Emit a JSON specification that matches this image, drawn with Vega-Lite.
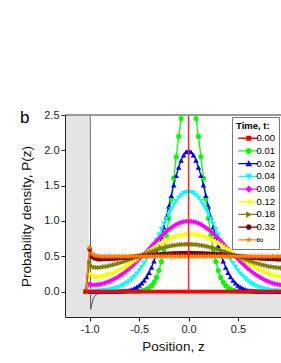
{
"$schema":"https://vega.github.io/schema/vega-lite/v6.json",
"width":216,"height":202,
"autosize":{"type":"none"},
"padding":{"left":65,"top":115,"right":0,"bottom":46},
"background":"white",
"config":{"view":{"stroke":null},"font":"Liberation Sans","locale":{"number":{"decimal":".","thousands":",","grouping":[3],"currency":["$",""],"minus":"-"}}},
"title":{"text":"b","anchor":"start","frame":"group","fontSize":17,"fontWeight":"normal","color":"#000","dx":-45,"offset":-31,"baseline":"alphabetic"},
"datasets":{
"series":[{"s":"a","t":"0.00"},{"s":"b","t":"0.01"},{"s":"c","t":"0.02"},{"s":"d","t":"0.04"},{"s":"e","t":"0.08"},{"s":"f","t":"0.12"},{"s":"g","t":"0.18"},{"s":"h","t":"0.32"},{"s":"i","t":"∞"}],
"wallzone":[{"x1":-1.3,"x2":-1.01,"y1":-0.5,"y2":3}],
"wall":[{"z":-1.01,"p":10},{"z":-0.99,"p":-0.25},{"z":-0.98,"p":-0.19},{"z":-0.97,"p":-0.13},{"z":-0.96,"p":-0.09},{"z":-0.95,"p":-0.065},{"z":-0.93,"p":-0.04},{"z":-0.9,"p":-0.02},{"z":-0.85,"p":-0.008},{"z":-0.8,"p":-0.002},{"z":-0.7,"p":0},{"z":0.98,"p":0}],
"curves":[
{"z":-1.04,"a":0,"b":0,"c":0,"d":0,"e":0,"f":0,"g":0,"h":0,"i":0},
{"z":-1,"a":0,"b":0,"c":0,"d":0.006,"e":0.11,"f":0.253,"g":0.415,"h":0.6,"i":0.625},
{"z":-0.975,"a":0,"b":0,"c":0,"d":0.006,"e":0.094,"f":0.217,"g":0.356,"h":0.489,"i":0.535},
{"z":-0.95,"a":0,"b":0,"c":0,"d":0.006,"e":0.094,"f":0.212,"g":0.344,"h":0.472,"i":0.515},
{"z":-0.925,"a":0,"b":0,"c":0,"d":0.008,"e":0.097,"f":0.212,"g":0.34,"h":0.463,"i":0.505},
{"z":-0.9,"a":0,"b":0,"c":0,"d":0.01,"e":0.102,"f":0.216,"g":0.34,"h":0.459,"i":0.5},
{"z":-0.875,"a":0,"b":0,"c":0,"d":0.012,"e":0.11,"f":0.223,"g":0.345,"h":0.461,"i":0.5},
{"z":-0.85,"a":0,"b":0,"c":0,"d":0.015,"e":0.12,"f":0.233,"g":0.35,"h":0.462,"i":0.5},
{"z":-0.825,"a":0,"b":0,"c":0,"d":0.02,"e":0.132,"f":0.243,"g":0.356,"h":0.464,"i":0.5},
{"z":-0.8,"a":0,"b":0,"c":0,"d":0.026,"e":0.146,"f":0.256,"g":0.363,"h":0.466,"i":0.5},
{"z":-0.775,"a":0,"b":0,"c":0.001,"d":0.033,"e":0.162,"f":0.269,"g":0.372,"h":0.468,"i":0.5},
{"z":-0.75,"a":0,"b":0,"c":0.002,"d":0.042,"e":0.18,"f":0.283,"g":0.38,"h":0.47,"i":0.5},
{"z":-0.725,"a":0,"b":0,"c":0.003,"d":0.053,"e":0.199,"f":0.3,"g":0.39,"h":0.472,"i":0.5},
{"z":-0.7,"a":0,"b":0,"c":0.004,"d":0.066,"e":0.221,"f":0.317,"g":0.401,"h":0.475,"i":0.5},
{"z":-0.675,"a":0,"b":0,"c":0.007,"d":0.082,"e":0.244,"f":0.336,"g":0.411,"h":0.478,"i":0.5},
{"z":-0.65,"a":0,"b":0,"c":0.01,"d":0.101,"e":0.269,"f":0.356,"g":0.423,"h":0.481,"i":0.5},
{"z":-0.625,"a":0,"b":0,"c":0.015,"d":0.123,"e":0.297,"f":0.377,"g":0.435,"h":0.484,"i":0.5},
{"z":-0.6,"a":0,"b":0,"c":0.022,"d":0.149,"e":0.326,"f":0.399,"g":0.447,"h":0.487,"i":0.5},
{"z":-0.575,"a":0,"b":0,"c":0.032,"d":0.179,"e":0.357,"f":0.421,"g":0.46,"h":0.49,"i":0.5},
{"z":-0.55,"a":0,"b":0.001,"c":0.045,"d":0.213,"e":0.389,"f":0.444,"g":0.473,"h":0.493,"i":0.5},
{"z":-0.525,"a":0,"b":0.003,"c":0.064,"d":0.252,"e":0.422,"f":0.468,"g":0.485,"h":0.497,"i":0.5},
{"z":-0.5,"a":0,"b":0.005,"c":0.088,"d":0.296,"e":0.458,"f":0.492,"g":0.499,"h":0.5,"i":0.5},
{"z":-0.475,"a":0,"b":0.01,"c":0.119,"d":0.344,"e":0.494,"f":0.515,"g":0.512,"h":0.503,"i":0.5},
{"z":-0.45,"a":0,"b":0.018,"c":0.159,"d":0.398,"e":0.531,"f":0.54,"g":0.526,"h":0.507,"i":0.5},
{"z":-0.425,"a":0,"b":0.031,"c":0.209,"d":0.456,"e":0.567,"f":0.564,"g":0.538,"h":0.51,"i":0.5},
{"z":-0.4,"a":0,"b":0.052,"c":0.27,"d":0.519,"e":0.605,"f":0.587,"g":0.551,"h":0.513,"i":0.5},
{"z":-0.375,"a":0,"b":0.084,"c":0.344,"d":0.586,"e":0.643,"f":0.61,"g":0.564,"h":0.516,"i":0.5},
{"z":-0.35,"a":0,"b":0.132,"c":0.431,"d":0.656,"e":0.68,"f":0.634,"g":0.576,"h":0.519,"i":0.5},
{"z":-0.325,"a":0,"b":0.201,"c":0.533,"d":0.729,"e":0.717,"f":0.656,"g":0.588,"h":0.522,"i":0.5},
{"z":-0.3,"a":0,"b":0.297,"c":0.648,"d":0.804,"e":0.753,"f":0.677,"g":0.599,"h":0.525,"i":0.5},
{"z":-0.275,"a":0,"b":0.426,"c":0.775,"d":0.879,"e":0.787,"f":0.698,"g":0.61,"h":0.528,"i":0.5},
{"z":-0.25,"a":0,"b":0.591,"c":0.913,"d":0.954,"e":0.82,"f":0.717,"g":0.62,"h":0.53,"i":0.5},
{"z":-0.225,"a":0,"b":0.796,"c":1.059,"d":1.028,"e":0.851,"f":0.734,"g":0.629,"h":0.532,"i":0.5},
{"z":-0.2,"a":0,"b":1.038,"c":1.21,"d":1.098,"e":0.88,"f":0.75,"g":0.637,"h":0.534,"i":0.5},
{"z":-0.175,"a":0,"b":1.312,"c":1.36,"d":1.165,"e":0.906,"f":0.765,"g":0.644,"h":0.536,"i":0.5},
{"z":-0.15,"a":0,"b":1.607,"c":1.506,"d":1.225,"e":0.93,"f":0.778,"g":0.651,"h":0.538,"i":0.5},
{"z":-0.125,"a":0,"b":1.909,"c":1.641,"d":1.279,"e":0.95,"f":0.789,"g":0.657,"h":0.539,"i":0.5},
{"z":-0.1,"a":0,"b":2.197,"c":1.76,"d":1.325,"e":0.967,"f":0.798,"g":0.662,"h":0.54,"i":0.5},
{"z":-0.075,"a":0,"b":2.451,"c":1.859,"d":1.362,"e":0.98,"f":0.805,"g":0.666,"h":0.541,"i":0.5},
{"z":-0.05,"a":0,"b":2.65,"c":1.933,"d":1.389,"e":0.99,"f":0.81,"g":0.668,"h":0.542,"i":0.5},
{"z":-0.025,"a":0,"b":2.777,"c":1.979,"d":1.405,"e":0.995,"f":0.813,"g":0.669,"h":0.542,"i":0.5},
{"z":0,"a":0,"b":2.821,"c":1.995,"d":1.41,"e":0.997,"f":0.814,"g":0.67,"h":0.543,"i":0.5},
{"z":0.025,"a":0,"b":2.777,"c":1.979,"d":1.405,"e":0.995,"f":0.813,"g":0.669,"h":0.542,"i":0.5},
{"z":0.05,"a":0,"b":2.65,"c":1.933,"d":1.389,"e":0.99,"f":0.81,"g":0.668,"h":0.542,"i":0.5},
{"z":0.075,"a":0,"b":2.451,"c":1.859,"d":1.362,"e":0.98,"f":0.805,"g":0.666,"h":0.541,"i":0.5},
{"z":0.1,"a":0,"b":2.197,"c":1.76,"d":1.325,"e":0.967,"f":0.798,"g":0.662,"h":0.54,"i":0.5},
{"z":0.125,"a":0,"b":1.909,"c":1.641,"d":1.279,"e":0.95,"f":0.789,"g":0.657,"h":0.539,"i":0.5},
{"z":0.15,"a":0,"b":1.607,"c":1.506,"d":1.225,"e":0.93,"f":0.778,"g":0.651,"h":0.538,"i":0.5},
{"z":0.175,"a":0,"b":1.312,"c":1.36,"d":1.165,"e":0.906,"f":0.765,"g":0.644,"h":0.536,"i":0.5},
{"z":0.2,"a":0,"b":1.038,"c":1.21,"d":1.098,"e":0.88,"f":0.75,"g":0.637,"h":0.534,"i":0.5},
{"z":0.225,"a":0,"b":0.796,"c":1.059,"d":1.028,"e":0.851,"f":0.734,"g":0.629,"h":0.532,"i":0.5},
{"z":0.25,"a":0,"b":0.591,"c":0.913,"d":0.954,"e":0.82,"f":0.717,"g":0.62,"h":0.53,"i":0.5},
{"z":0.275,"a":0,"b":0.426,"c":0.775,"d":0.879,"e":0.787,"f":0.698,"g":0.61,"h":0.528,"i":0.5},
{"z":0.3,"a":0,"b":0.297,"c":0.648,"d":0.804,"e":0.753,"f":0.677,"g":0.599,"h":0.525,"i":0.5},
{"z":0.325,"a":0,"b":0.201,"c":0.533,"d":0.729,"e":0.717,"f":0.656,"g":0.588,"h":0.522,"i":0.5},
{"z":0.35,"a":0,"b":0.132,"c":0.431,"d":0.656,"e":0.68,"f":0.634,"g":0.576,"h":0.519,"i":0.5},
{"z":0.375,"a":0,"b":0.084,"c":0.344,"d":0.586,"e":0.643,"f":0.61,"g":0.564,"h":0.516,"i":0.5},
{"z":0.4,"a":0,"b":0.052,"c":0.27,"d":0.519,"e":0.605,"f":0.587,"g":0.551,"h":0.513,"i":0.5},
{"z":0.425,"a":0,"b":0.031,"c":0.209,"d":0.456,"e":0.567,"f":0.564,"g":0.538,"h":0.51,"i":0.5},
{"z":0.45,"a":0,"b":0.018,"c":0.159,"d":0.398,"e":0.531,"f":0.54,"g":0.526,"h":0.507,"i":0.5},
{"z":0.475,"a":0,"b":0.01,"c":0.119,"d":0.344,"e":0.494,"f":0.515,"g":0.512,"h":0.503,"i":0.5},
{"z":0.5,"a":0,"b":0.005,"c":0.088,"d":0.296,"e":0.458,"f":0.492,"g":0.499,"h":0.5,"i":0.5},
{"z":0.525,"a":0,"b":0.003,"c":0.064,"d":0.252,"e":0.422,"f":0.468,"g":0.485,"h":0.497,"i":0.5},
{"z":0.55,"a":0,"b":0.001,"c":0.045,"d":0.213,"e":0.389,"f":0.444,"g":0.473,"h":0.493,"i":0.5},
{"z":0.575,"a":0,"b":0,"c":0.032,"d":0.179,"e":0.357,"f":0.421,"g":0.46,"h":0.49,"i":0.5},
{"z":0.6,"a":0,"b":0,"c":0.022,"d":0.149,"e":0.326,"f":0.399,"g":0.447,"h":0.487,"i":0.5},
{"z":0.625,"a":0,"b":0,"c":0.015,"d":0.123,"e":0.297,"f":0.377,"g":0.435,"h":0.484,"i":0.5},
{"z":0.65,"a":0,"b":0,"c":0.01,"d":0.101,"e":0.269,"f":0.356,"g":0.423,"h":0.481,"i":0.5},
{"z":0.675,"a":0,"b":0,"c":0.007,"d":0.082,"e":0.244,"f":0.336,"g":0.411,"h":0.478,"i":0.5},
{"z":0.7,"a":0,"b":0,"c":0.004,"d":0.066,"e":0.221,"f":0.317,"g":0.401,"h":0.475,"i":0.5},
{"z":0.725,"a":0,"b":0,"c":0.003,"d":0.053,"e":0.199,"f":0.3,"g":0.39,"h":0.472,"i":0.5},
{"z":0.75,"a":0,"b":0,"c":0.002,"d":0.042,"e":0.18,"f":0.283,"g":0.38,"h":0.47,"i":0.5},
{"z":0.775,"a":0,"b":0,"c":0.001,"d":0.033,"e":0.162,"f":0.269,"g":0.372,"h":0.468,"i":0.5},
{"z":0.8,"a":0,"b":0,"c":0,"d":0.026,"e":0.146,"f":0.256,"g":0.363,"h":0.466,"i":0.5},
{"z":0.825,"a":0,"b":0,"c":0,"d":0.02,"e":0.132,"f":0.243,"g":0.356,"h":0.464,"i":0.5},
{"z":0.85,"a":0,"b":0,"c":0,"d":0.015,"e":0.12,"f":0.233,"g":0.35,"h":0.462,"i":0.5},
{"z":0.875,"a":0,"b":0,"c":0,"d":0.012,"e":0.11,"f":0.223,"g":0.345,"h":0.461,"i":0.5},
{"z":0.9,"a":0,"b":0,"c":0,"d":0.01,"e":0.102,"f":0.216,"g":0.34,"h":0.459,"i":0.5},
{"z":0.925,"a":0,"b":0,"c":0,"d":0.008,"e":0.096,"f":0.21,"g":0.337,"h":0.458,"i":0.5},
{"z":0.95,"a":0,"b":0,"c":0,"d":0.006,"e":0.091,"f":0.206,"g":0.334,"h":0.458,"i":0.5},
{"z":0.975,"a":0,"b":0,"c":0,"d":0.006,"e":0.088,"f":0.203,"g":0.333,"h":0.457,"i":0.5}
]
},
"layer":[
{"data":{"name":"wallzone"},"mark":{"type":"rect","fill":"#e4e4e4","clip":true},
"encoding":{
"x":{"field":"x1","type":"quantitative","title":"Position, z","scale":{"domain":[-1.25,0.935],"nice":false,"zero":false},
"axis":{"values":[-1,-0.5,0,0.5],"format":".1f","tickSize":4,"grid":false,"zindex":1,"domainColor":"#222","tickColor":"#222","labelColor":"#222","labelFontSize":11,"labelPadding":2,"labelFlush":false,"labelOverlap":false,"titleFontSize":13.5,"titleFontWeight":"normal","titleColor":"#111","titlePadding":5}},
"x2":{"field":"x2"},
"y":{"field":"y1","type":"quantitative","title":"Probability density, P(z)","scale":{"domain":[-0.36,2.5],"nice":false,"zero":false},
"axis":{"values":[0,0.5,1,1.5,2,2.5],"format":".1f","tickSize":4,"grid":false,"zindex":1,"domainColor":"#222","tickColor":"#222","labelColor":"#222","labelFontSize":11,"labelPadding":2,"labelOverlap":false,"titleFontSize":13.5,"titleFontWeight":"normal","titleColor":"#111","titlePadding":10}},
"y2":{"field":"y2"}}},
{"data":{"values":[{}]},"mark":{"type":"rule","color":"#e4e4e4","strokeWidth":42.4,"strokeCap":"butt","clip":true},
"encoding":{"y":{"datum":-0.3,"type":"quantitative","title":"Probability density, P(z)"}}},
{"data":{"name":"wall"},"mark":{"type":"line","color":"#555","strokeWidth":1,"clip":true},
"encoding":{"x":{"field":"z","type":"quantitative","title":"Position, z"},"y":{"field":"p","type":"quantitative","title":"Probability density, P(z)"}}},
{"data":{"name":"curves"},
"transform":[{"fold":["a","b","c","d","e","f","g","h","i"],"as":["s","p"]},{"lookup":"s","from":{"data":{"name":"series"},"key":"s","fields":["t"]}}],
"layer":[
{"transform":[{"filter":"datum.s !== 'a'"}],"mark":{"type":"line","strokeWidth":1.3,"clip":true},
"encoding":{"x":{"field":"z","type":"quantitative","title":"Position, z"},"y":{"field":"p","type":"quantitative","title":"Probability density, P(z)"},
"stroke":{"field":"s","type":"nominal","scale":{"domain":["b","c","d","e","f","g","h","i"],"range":["#00ff00","#0000ff","#00ffff","#ff00ff","#ffff00","#808000","#800000","#ff8000"]},"legend":null}}},
{"transform":[{"filter":"datum.s === 'b'"}],"mark":{"type":"point","filled":true,"shape":"circle","size":26,"color":"#00ff00","opacity":1,"clip":true},"encoding":{"x":{"field":"z","type":"quantitative","title":"Position, z"},"y":{"field":"p","type":"quantitative","title":"Probability density, P(z)"}}},
{"transform":[{"filter":"datum.s === 'c'"}],"mark":{"type":"point","filled":true,"shape":"triangle-up","size":30,"color":"#0000ff","opacity":1,"clip":true},"encoding":{"x":{"field":"z","type":"quantitative","title":"Position, z"},"y":{"field":"p","type":"quantitative","title":"Probability density, P(z)"}}},
{"transform":[{"filter":"datum.s === 'd'"}],"mark":{"type":"point","filled":true,"shape":"triangle-down","size":30,"color":"#00ffff","opacity":1,"clip":true},"encoding":{"x":{"field":"z","type":"quantitative","title":"Position, z"},"y":{"field":"p","type":"quantitative","title":"Probability density, P(z)"}}},
{"transform":[{"filter":"datum.s === 'e'"}],"mark":{"type":"point","filled":true,"shape":"diamond","size":28,"color":"#ff00ff","opacity":1,"clip":true},"encoding":{"x":{"field":"z","type":"quantitative","title":"Position, z"},"y":{"field":"p","type":"quantitative","title":"Probability density, P(z)"}}},
{"transform":[{"filter":"datum.s === 'f'"}],"mark":{"type":"point","filled":true,"shape":"triangle-left","size":30,"color":"#ffff00","opacity":1,"clip":true},"encoding":{"x":{"field":"z","type":"quantitative","title":"Position, z"},"y":{"field":"p","type":"quantitative","title":"Probability density, P(z)"}}},
{"transform":[{"filter":"datum.s === 'g'"}],"mark":{"type":"point","filled":true,"shape":"triangle-right","size":30,"color":"#808000","opacity":1,"clip":true},"encoding":{"x":{"field":"z","type":"quantitative","title":"Position, z"},"y":{"field":"p","type":"quantitative","title":"Probability density, P(z)"}}},
{"transform":[{"filter":"datum.s === 'h'"}],"mark":{"type":"point","filled":true,"shape":"M-1,0L-0.5,-0.87L0.5,-0.87L1,0L0.5,0.87L-0.5,0.87Z","size":28,"color":"#800000","opacity":1,"clip":true},"encoding":{"x":{"field":"z","type":"quantitative","title":"Position, z"},"y":{"field":"p","type":"quantitative","title":"Probability density, P(z)"}}},
{"transform":[{"filter":"datum.s === 'i'"}],"mark":{"type":"point","filled":true,"shape":"M0,-1.15L0.27,-0.37L1.09,-0.36L0.44,0.14L0.68,0.93L0,0.46L-0.68,0.93L-0.44,0.14L-1.09,-0.36L-0.27,-0.37Z","size":34,"color":"#ff8000","opacity":1,"clip":true},"encoding":{"x":{"field":"z","type":"quantitative","title":"Position, z"},"y":{"field":"p","type":"quantitative","title":"Probability density, P(z)"}}},
{"transform":[{"filter":"datum.s === 'a'"}],"mark":{"type":"line","color":"#ff0000","strokeWidth":1.3,"clip":true},"encoding":{"x":{"field":"z","type":"quantitative","title":"Position, z"},"y":{"field":"p","type":"quantitative","title":"Probability density, P(z)"}}},
{"transform":[{"filter":"datum.s === 'a'"}],"mark":{"type":"point","filled":true,"shape":"square","size":13,"color":"#ff0000","opacity":1,"clip":true},"encoding":{"x":{"field":"z","type":"quantitative","title":"Position, z"},"y":{"field":"p","type":"quantitative","title":"Probability density, P(z)"}}},
{"transform":[{"filter":"datum.z === -1.04"}],"mark":{"type":"point","filled":true,"opacity":0},
"encoding":{"x":{"field":"z","type":"quantitative","title":"Position, z"},"y":{"field":"p","type":"quantitative","title":"Probability density, P(z)"},
"color":{"field":"t","type":"nominal","scale":{"domain":["0.00","0.01","0.02","0.04","0.08","0.12","0.18","0.32","∞"],"range":["#ff0000","#00ff00","#0000ff","#00ffff","#ff00ff","#ffff00","#808000","#800000","#ff8000"]},
"legend":{"title":"Time, t:","orient":"none","legendX":167,"legendY":2,"titleFontSize":9.5,"titleFontWeight":"bold","titleColor":"#000","titlePadding":3,"labelFontSize":9.5,"labelColor":"#000","symbolSize":36,"symbolOpacity":1,"symbolStrokeWidth":0,"symbolOffset":8,"labelOffset":3,"rowPadding":1.7,"padding":4,"strokeColor":"#777","fillColor":"#fff"}},
"shape":{"field":"t","type":"nominal","scale":{"domain":["0.00","0.01","0.02","0.04","0.08","0.12","0.18","0.32","∞"],"range":[
"M-3.5,-0.22H-0.5V0.22H-3.5ZM0.5,-0.22H3.2V0.22H0.5ZM-0.85,-0.85H0.85V0.85H-0.85Z",
"M-3.5,-0.22H-0.5V0.22H-3.5ZM0.5,-0.22H3.2V0.22H0.5ZM-1,0A1,1 0 1,1 1,0A1,1 0 1,1 -1,0Z",
"M-3.5,-0.22H-0.5V0.22H-3.5ZM0.5,-0.22H3.2V0.22H0.5ZM0,-1.1L1.1,0.9H-1.1Z",
"M-3.5,-0.22H-0.5V0.22H-3.5ZM0.5,-0.22H3.2V0.22H0.5ZM0,1.1L-1.1,-0.9H1.1Z",
"M-3.5,-0.22H-0.5V0.22H-3.5ZM0.5,-0.22H3.2V0.22H0.5ZM0,-1.2L1.2,0L0,1.2L-1.2,0Z",
"M-3.5,-0.22H-0.5V0.22H-3.5ZM0.5,-0.22H3.2V0.22H0.5ZM-1.1,0L0.9,-1.1V1.1Z",
"M-3.5,-0.22H-0.5V0.22H-3.5ZM0.5,-0.22H3.2V0.22H0.5ZM1.1,0L-0.9,1.1V-1.1Z",
"M-3.5,-0.22H-0.5V0.22H-3.5ZM0.5,-0.22H3.2V0.22H0.5ZM-1,0L-0.5,-0.87L0.5,-0.87L1,0L0.5,0.87L-0.5,0.87Z",
"M-3.5,-0.22H-0.5V0.22H-3.5ZM0.5,-0.22H3.2V0.22H0.5ZM0,-1.15L0.27,-0.37L1.09,-0.36L0.44,0.14L0.68,0.93L0,0.46L-0.68,0.93L-0.44,0.14L-1.09,-0.36L-0.27,-0.37Z"]},
"legend":{"title":"Time, t:","orient":"none","legendX":167,"legendY":2,"titleFontSize":9.5,"titleFontWeight":"bold","titleColor":"#000","titlePadding":3,"labelFontSize":9.5,"labelColor":"#000","symbolSize":36,"symbolOpacity":1,"symbolStrokeWidth":0,"symbolOffset":8,"labelOffset":3,"rowPadding":1.7,"padding":4,"strokeColor":"#777","fillColor":"#fff"}}}}
]},
{"data":{"values":[{}]},"mark":{"type":"rule","color":"#ff2020","strokeWidth":1.5},"encoding":{"x":{"datum":0,"type":"quantitative"},"y":{"datum":0,"type":"quantitative"},"y2":{"datum":2.5}}},
{"data":{"values":[{}]},"mark":{"type":"rule","color":"#999","strokeWidth":2},"encoding":{"y":{"datum":2.5,"type":"quantitative","title":"Probability density, P(z)"}}}
]
}
